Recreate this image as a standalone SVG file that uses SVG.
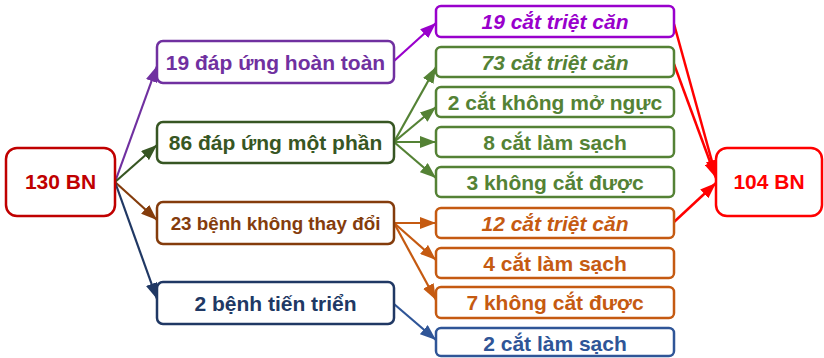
<svg xmlns="http://www.w3.org/2000/svg" width="824" height="358" viewBox="0 0 824 358">
  <style>
    text { font-family: "Liberation Sans", Arial, sans-serif; font-weight: bold; text-anchor: middle; }
    .box { fill: #ffffff; stroke-width: 2.5; }
    .big { font-size: 21px; }
    .mid { font-size: 18.8px; }
    .it { font-style: italic; }
    .edge { fill: none; stroke-width: 2.2; }
    .red { stroke-width: 2.5; }
  </style>
  <defs>
    <marker id="ah-purple" viewBox="0 0 16 12" refX="16" refY="6" markerWidth="16" markerHeight="12" markerUnits="userSpaceOnUse" orient="auto"><path d="M0,0 L16,6 L0,12 z" fill="#7030A0"/></marker>
    <marker id="ah-violet" viewBox="0 0 16 12" refX="16" refY="6" markerWidth="16" markerHeight="12" markerUnits="userSpaceOnUse" orient="auto"><path d="M0,0 L16,6 L0,12 z" fill="#9900CC"/></marker>
    <marker id="ah-dgreen" viewBox="0 0 16 12" refX="16" refY="6" markerWidth="16" markerHeight="12" markerUnits="userSpaceOnUse" orient="auto"><path d="M0,0 L16,6 L0,12 z" fill="#375623"/></marker>
    <marker id="ah-green" viewBox="0 0 16 12" refX="16" refY="6" markerWidth="16" markerHeight="12" markerUnits="userSpaceOnUse" orient="auto"><path d="M0,0 L16,6 L0,12 z" fill="#548235"/></marker>
    <marker id="ah-brown" viewBox="0 0 16 12" refX="16" refY="6" markerWidth="16" markerHeight="12" markerUnits="userSpaceOnUse" orient="auto"><path d="M0,0 L16,6 L0,12 z" fill="#843C0C"/></marker>
    <marker id="ah-orange" viewBox="0 0 16 12" refX="16" refY="6" markerWidth="16" markerHeight="12" markerUnits="userSpaceOnUse" orient="auto"><path d="M0,0 L16,6 L0,12 z" fill="#C55A11"/></marker>
    <marker id="ah-navy" viewBox="0 0 16 12" refX="16" refY="6" markerWidth="16" markerHeight="12" markerUnits="userSpaceOnUse" orient="auto"><path d="M0,0 L16,6 L0,12 z" fill="#203864"/></marker>
    <marker id="ah-blue" viewBox="0 0 16 12" refX="16" refY="6" markerWidth="16" markerHeight="12" markerUnits="userSpaceOnUse" orient="auto"><path d="M0,0 L16,6 L0,12 z" fill="#2F5597"/></marker>
    <marker id="ah-red" viewBox="0 0 16 12" refX="16" refY="6" markerWidth="16" markerHeight="12" markerUnits="userSpaceOnUse" orient="auto"><path d="M0,0 L16,6 L0,12 z" fill="#FF0000"/></marker>
  </defs>

  <!-- connectors -->
  <g id="connectors">
    <line class="edge" x1="115" y1="182" x2="157" y2="66" stroke="#7030A0" marker-end="url(#ah-purple)"/>
    <line class="edge" x1="115" y1="182" x2="157" y2="145" stroke="#375623" marker-end="url(#ah-dgreen)"/>
    <line class="edge" x1="115" y1="182" x2="157" y2="220" stroke="#843C0C" marker-end="url(#ah-brown)"/>
    <line class="edge" x1="115" y1="182" x2="157" y2="299" stroke="#203864" marker-end="url(#ah-navy)"/>

    <line class="edge" x1="394" y1="61" x2="436" y2="23" stroke="#9900CC" marker-end="url(#ah-violet)"/>

    <line class="edge" x1="394" y1="142" x2="436" y2="67" stroke="#548235" marker-end="url(#ah-green)"/>
    <line class="edge" x1="394" y1="142" x2="436" y2="107" stroke="#548235" marker-end="url(#ah-green)"/>
    <line class="edge" x1="394" y1="142" x2="436" y2="142" stroke="#548235" marker-end="url(#ah-green)"/>
    <line class="edge" x1="394" y1="142" x2="436" y2="178" stroke="#548235" marker-end="url(#ah-green)"/>

    <line class="edge" x1="394" y1="223" x2="436" y2="223" stroke="#C55A11" marker-end="url(#ah-orange)"/>
    <line class="edge" x1="394" y1="223" x2="436" y2="260" stroke="#C55A11" marker-end="url(#ah-orange)"/>
    <line class="edge" x1="394" y1="223" x2="436" y2="300" stroke="#C55A11" marker-end="url(#ah-orange)"/>

    <line class="edge" x1="394" y1="304" x2="436" y2="340" stroke="#2F5597" marker-end="url(#ah-blue)"/>

    <line class="edge red" x1="674" y1="24" x2="716" y2="176" stroke="#FF0000" marker-end="url(#ah-red)"/>
    <line class="edge red" x1="674" y1="64" x2="716" y2="178" stroke="#FF0000" marker-end="url(#ah-red)"/>
    <line class="edge red" x1="674" y1="222" x2="716" y2="183" stroke="#FF0000" marker-end="url(#ah-red)"/>
  </g>

  <!-- start and end totals -->
  <g id="total-start">
    <rect class="box" x="6" y="148" width="109" height="68" rx="11" stroke="#C00000"/>
    <text class="big" x="60.5" y="189" fill="#C00000">130 BN</text>
  </g>
  <g id="total-end">
    <rect class="box" x="716" y="148" width="106" height="68" rx="11" stroke="#FF0000"/>
    <text class="big" x="769" y="189" fill="#FF0000">104 BN</text>
  </g>

  <!-- response groups -->
  <g id="complete-response">
    <rect class="box" x="157" y="41" width="237" height="42" rx="6" stroke="#7030A0"/>
    <text class="big" x="275.5" y="70" fill="#7030A0">19 đáp ứng hoàn toàn</text>
  </g>
  <g id="partial-response">
    <rect class="box" x="157" y="122" width="237" height="41" rx="6" stroke="#375623"/>
    <text class="big" x="275.5" y="150" fill="#375623">86 đáp ứng một phần</text>
  </g>
  <g id="stable-disease">
    <rect class="box" x="157" y="202" width="237" height="42" rx="6" stroke="#843C0C"/>
    <text class="mid" x="275.5" y="230" fill="#843C0C">23 bệnh không thay đổi</text>
  </g>
  <g id="progressive-disease">
    <rect class="box" x="157" y="282" width="237" height="42" rx="6" stroke="#203864"/>
    <text class="big" x="275.5" y="311" fill="#203864">2 bệnh tiến triển</text>
  </g>

  <!-- surgical outcomes -->
  <g id="cr-radical">
    <rect class="box" x="436" y="6" width="238" height="31" rx="5" stroke="#9900CC"/>
    <text class="big it" x="555" y="29" fill="#9900CC">19 cắt triệt căn</text>
  </g>
  <g id="pr-radical">
    <rect class="box" x="436" y="47" width="238" height="30" rx="5" stroke="#548235"/>
    <text class="big it" x="555" y="70" fill="#548235">73 cắt triệt căn</text>
  </g>
  <g id="pr-closed-chest">
    <rect class="box" x="436" y="87" width="238" height="30" rx="5" stroke="#548235"/>
    <text class="big" x="555" y="110" fill="#548235">2 cắt không mở ngực</text>
  </g>
  <g id="pr-debulking">
    <rect class="box" x="436" y="127" width="238" height="30" rx="5" stroke="#548235"/>
    <text class="big" x="555" y="150" fill="#548235">8 cắt làm sạch</text>
  </g>
  <g id="pr-unresectable">
    <rect class="box" x="436" y="167" width="238" height="30" rx="5" stroke="#548235"/>
    <text class="big" x="555" y="190" fill="#548235">3 không cắt được</text>
  </g>
  <g id="sd-radical">
    <rect class="box" x="436" y="208" width="238" height="30" rx="5" stroke="#C55A11"/>
    <text class="big it" x="555" y="231" fill="#C55A11">12 cắt triệt căn</text>
  </g>
  <g id="sd-debulking">
    <rect class="box" x="436" y="248" width="238" height="30" rx="5" stroke="#C55A11"/>
    <text class="big" x="555" y="271" fill="#C55A11">4 cắt làm sạch</text>
  </g>
  <g id="sd-unresectable">
    <rect class="box" x="436" y="287" width="238" height="31" rx="5" stroke="#C55A11"/>
    <text class="big" x="555" y="310" fill="#C55A11">7 không cắt được</text>
  </g>
  <g id="pd-debulking">
    <rect class="box" x="436" y="328" width="238" height="28" rx="5" stroke="#2F5597"/>
    <text class="big" x="555" y="351" fill="#2F5597">2 cắt làm sạch</text>
  </g>
</svg>
